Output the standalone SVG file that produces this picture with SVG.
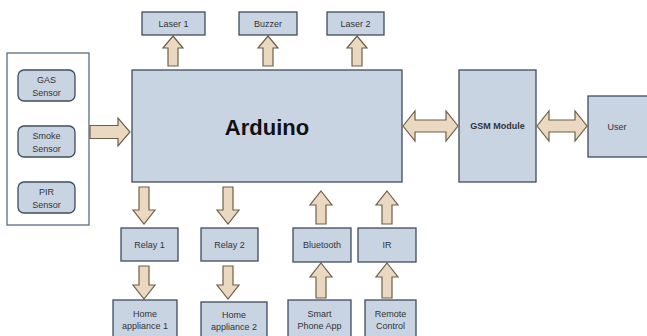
<svg xmlns="http://www.w3.org/2000/svg" width="647" height="336" viewBox="0 0 647 336">
<style>
.box{fill:#c9d4e3;stroke:#3f4c5e;stroke-width:1.3}
.sens{fill:#c9d4e3;stroke:#3f4c5e;stroke-width:1.3}
.cont{fill:#ffffff;stroke:#5b6b80;stroke-width:1.3}
.arr{fill:#ead9c0;stroke:#6e5f48;stroke-width:1.2;stroke-linejoin:miter}
text{font-family:"Liberation Sans",Arial,sans-serif;font-size:9px;fill:#333;text-anchor:middle}
.big{font-size:22px;font-weight:bold;fill:#111}
</style>
<rect width="647" height="336" fill="#ffffff"/>
<g id="sensors">
<rect class="cont" x="7" y="53" width="82" height="172"/>
<g id="gas"><rect class="sens" x="18" y="70" width="57" height="31" rx="6"/><text x="46.5" y="83">GAS</text><text x="46.5" y="96">Sensor</text></g>
<g id="smoke"><rect class="sens" x="18" y="126" width="57" height="31" rx="6"/><text x="46.5" y="139">Smoke</text><text x="46.5" y="152">Sensor</text></g>
<g id="pir"><rect class="sens" x="18" y="182" width="57" height="31" rx="6"/><text x="46.5" y="195">PIR</text><text x="46.5" y="208">Sensor</text></g>
</g>
<g id="arduino"><rect class="box" x="132" y="70" width="270" height="112"/><text class="big" x="267" y="135">Arduino</text></g>
<g id="laser1"><rect class="box" x="142" y="12" width="63" height="23"/><text x="173.5" y="27">Laser 1</text></g>
<g id="buzzer"><rect class="box" x="239" y="12" width="58" height="23"/><text x="268" y="27">Buzzer</text></g>
<g id="laser2"><rect class="box" x="327" y="12" width="57" height="23"/><text x="355.5" y="27">Laser 2</text></g>
<g id="gsm"><rect class="box" x="459" y="70" width="77" height="112"/><text x="497.5" y="129" font-weight="bold">GSM Module</text></g>
<g id="user"><rect class="box" x="588" y="96" width="62" height="61"/><text x="617" y="130">User</text></g>
<g id="relay1"><rect class="box" x="121" y="228" width="57" height="33"/><text x="149.5" y="247.5">Relay 1</text></g>
<g id="relay2"><rect class="box" x="201" y="228" width="57" height="33"/><text x="229.5" y="247.5">Relay 2</text></g>
<g id="bluetooth"><rect class="box" x="293" y="228" width="58" height="34"/><text x="322" y="248">Bluetooth</text></g>
<g id="ir"><rect class="box" x="358" y="228" width="58" height="34"/><text x="387" y="248">IR</text></g>
<g id="home1"><rect class="box" x="113" y="300" width="64" height="45"/><text x="145" y="317">Home</text><text x="145" y="329">appliance 1</text></g>
<g id="home2"><rect class="box" x="201" y="302" width="66" height="45"/><text x="234" y="318">Home</text><text x="234" y="330">appliance 2</text></g>
<g id="smartphone"><rect class="box" x="288" y="300" width="63" height="45"/><text x="319.5" y="317">Smart</text><text x="319.5" y="329">Phone App</text></g>
<g id="remote"><rect class="box" x="365" y="300" width="51" height="45"/><text x="390.5" y="317">Remote</text><text x="390.5" y="329">Control</text></g>
<g id="connectors">
<path class="arr" d="M90,125.5 L118,125.5 L118,118 L130,132 L118,146 L118,138.5 L90,138.5 Z"/>
<path class="arr" d="M173,36 L183,48 L178,48 L178,66 L168,66 L168,48 L163,48 Z"/>
<path class="arr" d="M268,36 L278,48 L273,48 L273,66 L263,66 L263,48 L258,48 Z"/>
<path class="arr" d="M357,36 L367,48 L362,48 L362,66 L352,66 L352,48 L347,48 Z"/>
<path class="arr" d="M403,126 L415,111 L415,120 L446,120 L446,111 L458,126 L446,141 L446,132 L415,132 L415,141 Z"/>
<path class="arr" d="M537,126 L549,111 L549,120 L575,120 L575,111 L587,126 L575,141 L575,132 L549,132 L549,141 Z"/>
<path class="arr" d="M139,187 L149,187 L149,210 L155,210 L144,224 L133,210 L139,210 Z"/>
<path class="arr" d="M223,187 L233,187 L233,210 L239,210 L228,224 L217,210 L223,210 Z"/>
<path class="arr" d="M139,266 L149,266 L149,285 L155,285 L144,299 L133,285 L139,285 Z"/>
<path class="arr" d="M223,266 L233,266 L233,285 L239,285 L228,299 L217,285 L223,285 Z"/>
<path class="arr" d="M321,191 L332,205 L326,205 L326,224 L316,224 L316,205 L310,205 Z"/>
<path class="arr" d="M387,191 L398,205 L392,205 L392,224 L382,224 L382,205 L376,205 Z"/>
<path class="arr" d="M321,263 L332,277 L326,277 L326,298 L316,298 L316,277 L310,277 Z"/>
<path class="arr" d="M387,263 L398,277 L392,277 L392,298 L382,298 L382,277 L376,277 Z"/>
</g>
</svg>
